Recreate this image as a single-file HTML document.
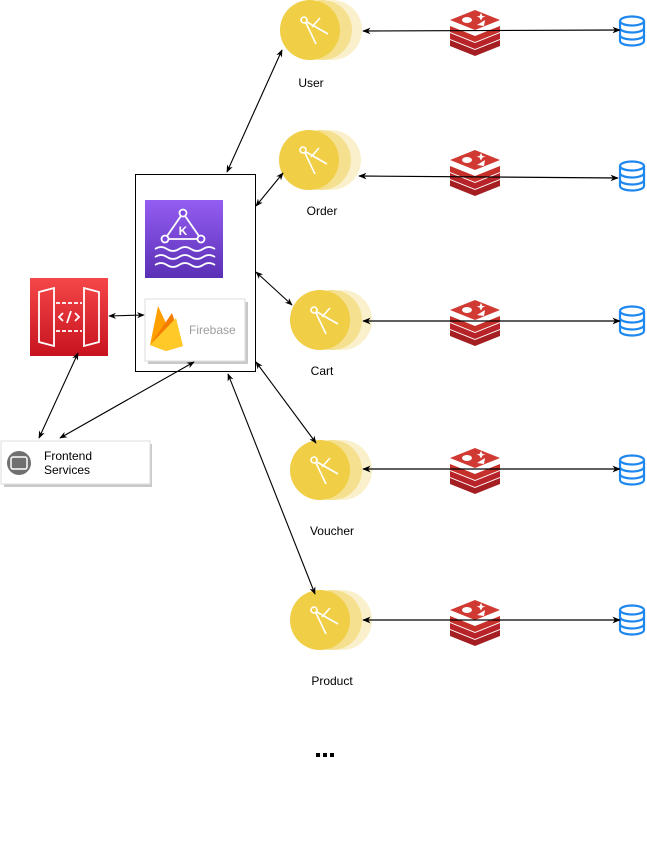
<!DOCTYPE html>
<html><head><meta charset="utf-8"><style>
html,body{margin:0;padding:0;background:#fff;}
svg{display:block;font-family:"Liberation Sans",Arial,sans-serif;}
</style></head><body>
<svg width="647" height="851" viewBox="0 0 647 851" xmlns="http://www.w3.org/2000/svg">
<defs>
<marker id="a" viewBox="0 0 10 10" refX="9" refY="5" markerWidth="7" markerHeight="7" orient="auto-start-reverse"><path d="M0,1 L10,5 L0,9 L3,5 Z" fill="#000"/></marker>
<linearGradient id="kin" x1="0" y1="0" x2="0" y2="1"><stop offset="0" stop-color="#945DF2"/><stop offset="1" stop-color="#5A30B5"/></linearGradient>
<linearGradient id="api" x1="0" y1="0" x2="0" y2="1"><stop offset="0" stop-color="#F54749"/><stop offset="1" stop-color="#C7131F"/></linearGradient>
<g id="svc">
<circle cx="22" cy="0" r="30" fill="#FAF1CC"/>
<circle cx="12" cy="0" r="30" fill="#F4E08F"/>
<circle cx="0" cy="0" r="30" fill="#F0CE45"/>
<g stroke="#fff" stroke-width="1.6" fill="none">
<circle cx="-6" cy="-10" r="3"/>
<line x1="-4" y1="-7" x2="6" y2="14"/>
<line x1="-3" y1="-8" x2="18" y2="4"/>
<line x1="2" y1="-3" x2="10" y2="-12"/>
</g>
</g>
<g id="redis">
<path d="M-25,10 L0,20 L25,10 L25,16 L0,26 L-25,16 Z" fill="#A41E22"/>
<path d="M-25,3 L0,13 L25,3 L25,9 L0,19 L-25,9 Z" fill="#B8232A"/>
<path d="M-25,-4 L0,6 L25,-4 L25,2 L0,12 L-25,2 Z" fill="#C6302B"/>
<path d="M-25,-10 L0,-20 L25,-10 L0,0 Z" fill="#D03A32"/>
<ellipse cx="-8" cy="-10" rx="5" ry="3" fill="#fff"/>
<path d="M2,-5 L10,-10 L9,-4 Z" fill="#fff"/>
<path d="M6,-17 l1.5,3 3,0.5 -3,1 -1.5,3 -1.5,-3 -3,-1 3,-0.5 z" fill="#fff"/>
</g>
<g id="db" fill="none" stroke="#1E88F0" stroke-width="2.2">
<ellipse cx="0" cy="-10" rx="12" ry="4.5"/>
<path d="M-12,-10 V10 A12,4.5 0 0 0 12,10 V-10"/>
<path d="M-12,-3 A12,4.5 0 0 0 12,-3"/>
<path d="M-12,4 A12,4.5 0 0 0 12,4"/>
</g>
</defs>

<use href="#svc" x="310" y="30"/>
<use href="#svc" x="309" y="160"/>
<use href="#svc" x="320" y="320"/>
<use href="#svc" x="320" y="470"/>
<use href="#svc" x="320" y="620"/>
<g font-size="12" fill="#000" text-anchor="middle">
<text x="311" y="87">User</text>
<text x="322" y="215">Order</text>
<text x="322" y="375">Cart</text>
<text x="332" y="535">Voucher</text>
<text x="332" y="685">Product</text>
</g>
<g fill="#000"><rect x="316" y="753" width="4" height="4"/><rect x="323" y="753" width="4" height="4"/><rect x="330" y="753" width="4" height="4"/></g>

<use href="#redis" x="475" y="30"/>
<use href="#redis" x="475" y="170"/>
<use href="#redis" x="475" y="320"/>
<use href="#redis" x="475" y="468"/>
<use href="#redis" x="475" y="620"/>
<use href="#db" x="632" y="31"/>
<use href="#db" x="632" y="176"/>
<use href="#db" x="632" y="321"/>
<use href="#db" x="632" y="470"/>
<use href="#db" x="632" y="620"/>

<g stroke="#000" stroke-width="1.2" fill="none" marker-start="url(#a)" marker-end="url(#a)">
<line x1="363" y1="31" x2="620" y2="30"/>
<line x1="359" y1="176" x2="618" y2="178"/>
<line x1="363" y1="321" x2="620" y2="321"/>
<line x1="363" y1="469" x2="620" y2="469"/>
<line x1="363" y1="620" x2="620" y2="620"/>
</g>

<rect x="135.5" y="174.5" width="120" height="197" fill="#fff" stroke="#000" stroke-width="1"/>
<rect x="145" y="200" width="78" height="78" fill="url(#kin)"/>
<g stroke="#fff" stroke-width="1.8" fill="none">
<path d="M183,213 L165,239 L201,239 Z"/>
<circle cx="183" cy="213" r="3.5" fill="#7B47DE"/><circle cx="165" cy="239" r="3.5" fill="#7B47DE"/><circle cx="201" cy="239" r="3.5" fill="#7B47DE"/>
<path d="M155,249 q6,-4 12,0 t12,0 t12,0 t12,0 t12,0"/>
<path d="M155,257 q6,-4 12,0 t12,0 t12,0 t12,0 t12,0"/>
<path d="M155,265 q6,-4 12,0 t12,0 t12,0 t12,0 t12,0"/>
</g>
<text x="183" y="235" font-size="12" font-weight="bold" fill="#fff" text-anchor="middle">K</text>
<rect x="148" y="302" width="100" height="62" fill="#C9C9C9"/>
<rect x="145" y="299" width="100" height="62" fill="#fff" stroke="#ddd"/>
<path d="M150,345 L158,306 L166,323 Z" fill="#FFA000"/>
<path d="M150,345 L172,313 L183,346 L166,351 Z" fill="#F57C00"/>
<path d="M150,345 L176,318 L183,346 L166,351 Z" fill="#FFCA28"/>
<text x="189" y="334" font-size="12" fill="#9E9E9E">Firebase</text>

<rect x="30" y="278" width="78" height="78" fill="url(#api)"/>
<g stroke="#fff" stroke-width="1.8" fill="none">
<path d="M39,292 L54,288 L54,346 L39,342 Z"/>
<path d="M99,292 L84,288 L84,346 L99,342 Z"/>
<line x1="56" y1="303" x2="82" y2="303" stroke-dasharray="4,2"/>
<line x1="56" y1="331" x2="82" y2="331" stroke-dasharray="4,2"/>
<path d="M63,313 L59,317 L63,321 M75,313 L79,317 L75,321 M71,311 L67,323"/>
</g>

<rect x="4" y="444" width="148" height="43" fill="#C9C9C9"/>
<rect x="1" y="441" width="149" height="43" fill="#fff" stroke="#ddd"/>
<circle cx="19" cy="463" r="12" fill="#707070"/>
<rect x="11" y="457" width="16" height="12" rx="2" fill="none" stroke="#fff" stroke-width="1.5"/>
<rect x="14" y="459" width="10" height="8" fill="#707070"/>
<text x="44" y="460" font-size="12" fill="#000">Frontend</text>
<text x="44" y="474" font-size="12" fill="#000">Services</text>

<g stroke="#000" stroke-width="1.1" fill="none" marker-start="url(#a)" marker-end="url(#a)">
<line x1="227" y1="172" x2="282" y2="50"/>
<line x1="256" y1="206" x2="283" y2="173"/>
<line x1="256" y1="272" x2="292" y2="305"/>
<line x1="256" y1="362" x2="316" y2="443"/>
<line x1="228" y1="374" x2="315" y2="594"/>
<line x1="109" y1="316" x2="144" y2="315"/>
<line x1="78" y1="353" x2="39" y2="438"/>
<line x1="194" y1="362" x2="60" y2="438"/>
</g>
</svg>
</body></html>
